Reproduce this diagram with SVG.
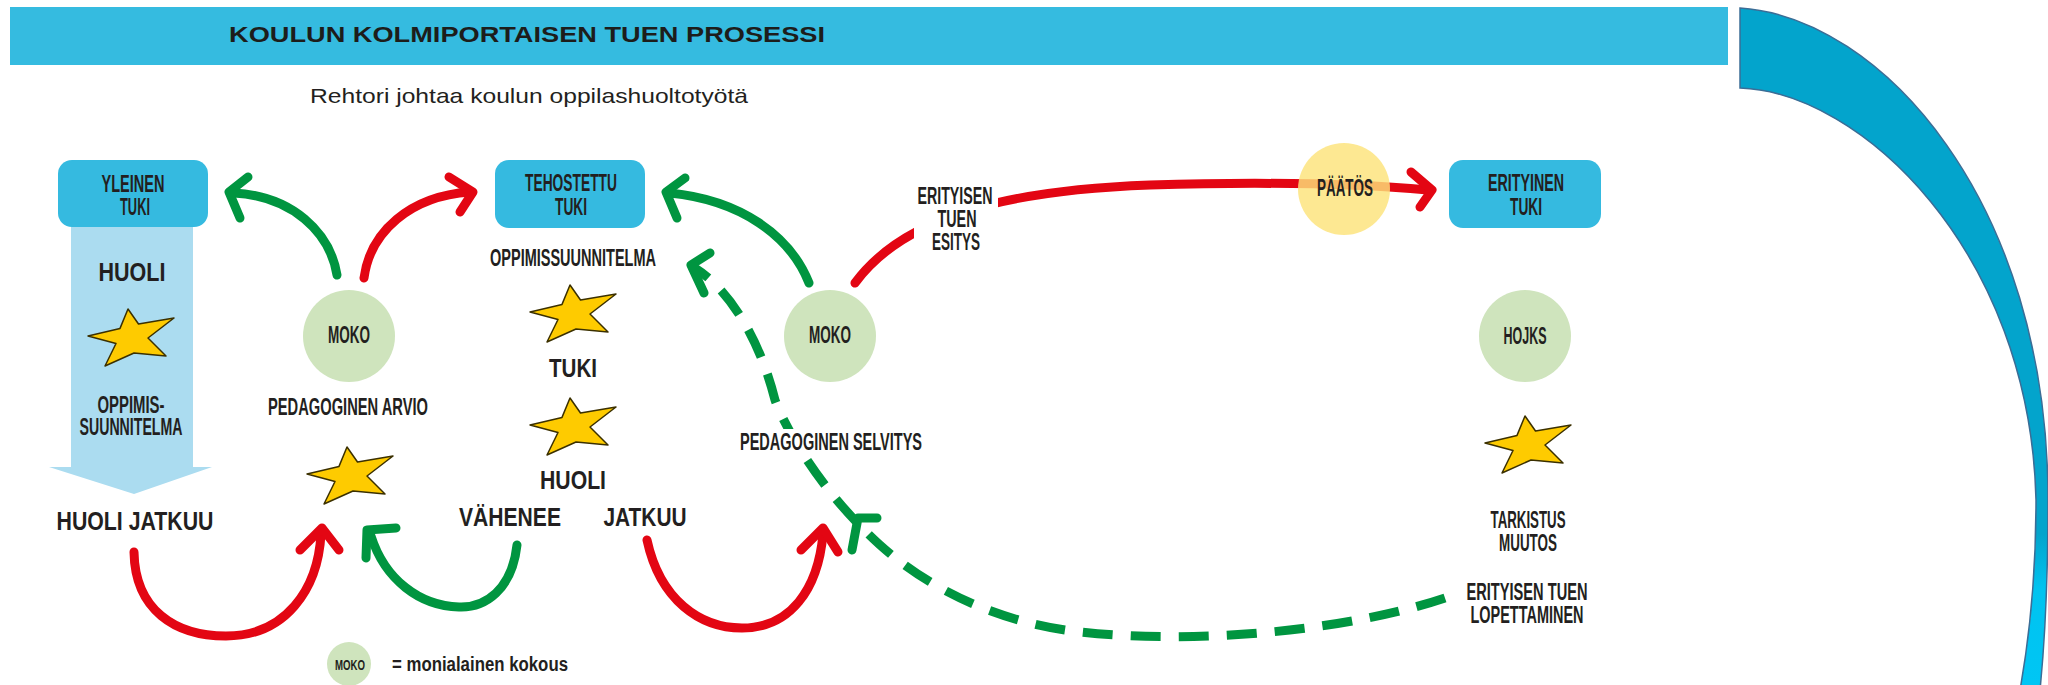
<svg xmlns="http://www.w3.org/2000/svg" width="2048" height="685" viewBox="0 0 2048 685">
<defs>
<style>
.lbl{font-family:'Liberation Sans Narrow','Liberation Sans',sans-serif;font-weight:bold;font-size:23px;fill:#231f20;text-anchor:middle}
.bold{font-family:'Liberation Sans',sans-serif;font-weight:bold;font-size:25px;fill:#231f20;text-anchor:middle}
.box{fill:#35bae0}
.moko{fill:#cfe4bd}
.star{fill:#fecb00;stroke:#3b3000;stroke-width:1.5;stroke-linejoin:round}
.red{stroke:#e30613;stroke-width:9;fill:none;stroke-linecap:round;stroke-linejoin:round}
.green{stroke:#009540;stroke-width:9;fill:none;stroke-linecap:round;stroke-linejoin:round}
.dash{stroke:#009540;stroke-width:9;fill:none;stroke-dasharray:30 18}
.gap{fill:#ffffff}
</style>
<path id="star" d="M-3,-28 L7.5,-13 L43,-19 L17,1 L35,19 L3,16 L-26,29 L-15,6.5 L-43,-1 L-11,-8.6 Z"/>
<linearGradient id="rib" gradientUnits="userSpaceOnUse" x1="0" y1="0" x2="0" y2="685">
<stop offset="0" stop-color="#03a4cc"/>
<stop offset="0.78" stop-color="#03a4cc"/>
<stop offset="0.86" stop-color="#00c3f0"/>
<stop offset="1" stop-color="#00c6f4"/>
</linearGradient>
</defs>
<rect width="2048" height="685" fill="#ffffff"/>

<g id="header">
<rect x="10" y="7" width="1718" height="58" fill="#35bbe0"/>
<text x="527" y="42" textLength="596" lengthAdjust="spacingAndGlyphs" style="font-family:'Liberation Sans',sans-serif;font-weight:bold;font-size:22px;fill:#1d1d1b;text-anchor:middle">KOULUN KOLMIPORTAISEN TUEN PROSESSI</text>
<text x="529" y="103" textLength="438" lengthAdjust="spacingAndGlyphs" style="font-family:'Liberation Sans',sans-serif;font-size:21px;fill:#231f20;text-anchor:middle">Rehtori johtaa koulun oppilashuoltotyötä</text>
</g>

<g id="ribbon">
<path d="M1740,8 C1880,17 2048,200 2048,500 C2048,580 2045,640 2040,690 L2020,690 C2029,640 2036,580 2036,500 C2030,250 1860,92 1740,88 Z" fill="url(#rib)" stroke="#3b6d96" stroke-width="1.5"/>
</g>

<g id="yleinen-arrow">
<path d="M71,226 L193,226 L193,467 L212,467 L134,494 L49,467 L71,467 Z" fill="#abdcf0"/>
</g>

<g id="connectors">
<path class="green" d="M337,275 C330,232 292,196 234,193"/>
<path class="green" d="M248,177 L229,192 L240,218"/>
<path class="red" d="M364,278 C370,232 410,196 470,192"/>
<path class="red" d="M449,177 L473,192 L460,212"/>
<path class="green" d="M809,283 C790,235 740,200 670,193"/>
<path class="green" d="M685,178 L666,192 L677,218"/>
<path class="red" d="M855,283 C905,215 1010,190 1150,185 C1250,182 1350,183 1428,190"/>
<path class="red" d="M1411,172 L1432,190 L1420,207"/>
<path class="dash" d="M1445,598 C1350,630 1200,645 1080,632 C1000,623 930,590 880,545 C830,500 790,440 775,400 C760,340 730,290 695,268"/>
<path class="green" d="M710,253 L691,265 L704,293"/>
<path class="green" d="M877,518 L858,518 L852,550"/>
<path class="red" d="M134,552 C135,610 175,636 226,636 C285,636 318,590 321,534"/>
<path class="red" d="M300,550 L322,528 L339,550"/>
<path class="green" d="M517,545 C512,590 485,608 459,607 C420,606 385,580 371,536"/>
<path class="green" d="M396,528 L367,530 L366,558"/>
<path class="red" d="M647,540 C660,600 700,628 742,628 C790,628 818,590 823,534"/>
<path class="red" d="M801,550 L823,528 L838,552"/>
</g>

<g id="yleinen-tuki">
<rect class="box" x="58" y="160" width="150" height="67" rx="14"/>
<text class="lbl" x="133" y="192" textLength="63" lengthAdjust="spacingAndGlyphs">YLEINEN</text>
<text class="lbl" x="135" y="215" textLength="30" lengthAdjust="spacingAndGlyphs">TUKI</text>
</g>
<g id="yleinen-content">
<text class="bold" x="132" y="281" textLength="67" lengthAdjust="spacingAndGlyphs">HUOLI</text>
<use href="#star" class="star" x="131" y="337"/>
<text class="lbl" x="131" y="413" textLength="67" lengthAdjust="spacingAndGlyphs">OPPIMIS-</text>
<text class="lbl" x="131" y="435" textLength="103" lengthAdjust="spacingAndGlyphs">SUUNNITELMA</text>
<text class="bold" x="135" y="530" textLength="157" lengthAdjust="spacingAndGlyphs">HUOLI JATKUU</text>
</g>

<g id="moko-1">
<circle class="moko" cx="349" cy="336" r="46"/>
<text class="lbl" x="349" y="343" textLength="42" lengthAdjust="spacingAndGlyphs">MOKO</text>
<text class="lbl" x="348" y="415" textLength="160" lengthAdjust="spacingAndGlyphs">PEDAGOGINEN ARVIO</text>
<use href="#star" class="star" x="350" y="475"/>
</g>

<g id="tehostettu-tuki">
<rect class="box" x="495" y="160" width="150" height="68" rx="14"/>
<text class="lbl" x="571" y="191" textLength="92" lengthAdjust="spacingAndGlyphs">TEHOSTETTU</text>
<text class="lbl" x="571" y="215" textLength="32" lengthAdjust="spacingAndGlyphs">TUKI</text>
</g>
<g id="tehostettu-content">
<text class="lbl" x="573" y="266" textLength="166" lengthAdjust="spacingAndGlyphs">OPPIMISSUUNNITELMA</text>
<use href="#star" class="star" x="573" y="313"/>
<text class="bold" x="573" y="377" textLength="48" lengthAdjust="spacingAndGlyphs">TUKI</text>
<use href="#star" class="star" x="573" y="426"/>
<text class="bold" x="573" y="489" textLength="66" lengthAdjust="spacingAndGlyphs">HUOLI</text>
<text class="bold" x="510" y="526" textLength="102" lengthAdjust="spacingAndGlyphs">VÄHENEE</text>
<text class="bold" x="645" y="526" textLength="83" lengthAdjust="spacingAndGlyphs">JATKUU</text>
</g>

<g id="moko-2">
<circle class="moko" cx="830" cy="336" r="46"/>
<text class="lbl" x="830" y="343" textLength="42" lengthAdjust="spacingAndGlyphs">MOKO</text>
</g>

<g id="label-esitys">
<rect class="gap" x="914" y="183" width="84" height="72"/>
<text class="lbl" x="955" y="204" textLength="75" lengthAdjust="spacingAndGlyphs">ERITYISEN</text>
<text class="lbl" x="957" y="227" textLength="39" lengthAdjust="spacingAndGlyphs">TUEN</text>
<text class="lbl" x="956" y="250" textLength="48" lengthAdjust="spacingAndGlyphs">ESITYS</text>
</g>

<g id="label-selvitys">
<rect class="gap" x="738" y="429" width="188" height="27"/>
<text class="lbl" x="831" y="450" textLength="182" lengthAdjust="spacingAndGlyphs">PEDAGOGINEN SELVITYS</text>
</g>

<g id="paatos">
<circle cx="1344" cy="189" r="46" fill="#fde37a" opacity="0.82"/>
<text class="lbl" x="1345" y="196" textLength="56" lengthAdjust="spacingAndGlyphs">PÄÄTÖS</text>
</g>

<g id="erityinen-tuki">
<rect class="box" x="1449" y="160" width="152" height="68" rx="14"/>
<text class="lbl" x="1526" y="191" textLength="76" lengthAdjust="spacingAndGlyphs">ERITYINEN</text>
<text class="lbl" x="1526" y="215" textLength="32" lengthAdjust="spacingAndGlyphs">TUKI</text>
</g>

<g id="hojks">
<circle class="moko" cx="1525" cy="336" r="46"/>
<text class="lbl" x="1525" y="344" textLength="43" lengthAdjust="spacingAndGlyphs">HOJKS</text>
<use href="#star" class="star" x="1528" y="444"/>
<text class="lbl" x="1528" y="528" textLength="75" lengthAdjust="spacingAndGlyphs">TARKISTUS</text>
<text class="lbl" x="1528" y="551" textLength="58" lengthAdjust="spacingAndGlyphs">MUUTOS</text>
</g>

<g id="lopettaminen">
<text class="lbl" x="1527" y="600" textLength="121" lengthAdjust="spacingAndGlyphs">ERITYISEN TUEN</text>
<text class="lbl" x="1527" y="623" textLength="113" lengthAdjust="spacingAndGlyphs">LOPETTAMINEN</text>
</g>

<g id="legend">
<circle class="moko" cx="349" cy="664" r="22"/>
<text class="lbl" x="350" y="670" textLength="30" lengthAdjust="spacingAndGlyphs" style="font-size:15px">MOKO</text>
<text x="392" y="671" textLength="176" lengthAdjust="spacingAndGlyphs" style="font-family:'Liberation Sans Narrow','Liberation Sans',sans-serif;font-weight:bold;font-size:20px;fill:#231f20">= monialainen kokous</text>
</g>
</svg>
